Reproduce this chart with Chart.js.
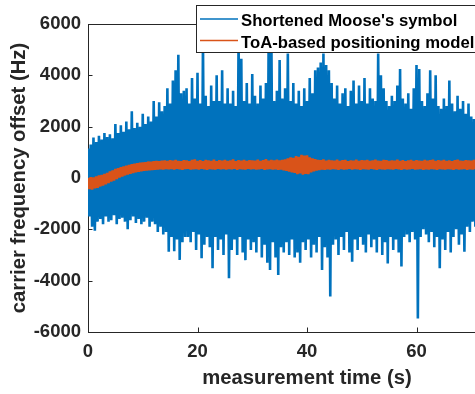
<!DOCTYPE html>
<html>
<head>
<meta charset="utf-8">
<script src="https://cdn.jsdelivr.net/npm/chart.js@4/dist/chart.umd.min.js"></script>
<style>
  html, body { margin: 0; padding: 0; background: #fff; overflow: hidden; width: 475px; height: 394px; }
  canvas { display: block; }
</style>
</head>
<body>
<canvas id="c" width="560" height="394"></canvas>
<script>
// Series names shown in the legend
const seriesNames = ["Shortened Moose's symbol", "ToA-based positioning model"];

// Envelope samples every 0.5 s: per-interval maximum and minimum (Hz)
const sampleStep = 0.5;

const blueHigh = [
  1150, 1300, 1580, 1400, 1650, 1500, 1750, 1600,
  1700, 1550, 2100, 1750, 2050, 1800, 2200, 1900,
  2600, 1950, 2150, 2000, 2500, 2100, 2400, 2200,
  3000, 2400, 2950, 2600, 2800, 3500, 2900, 3800,
  4200, 4800, 3300, 3400, 3500, 2900, 3900, 3100,
  4100, 2900, 5300, 3200, 2800, 3600, 3000, 4000,
  3000, 4200, 2900, 3500, 2900, 3400, 2800, 5400,
  4650, 3000, 3700, 2900, 4050, 3200, 2900, 3600,
  3100, 3700, 5600, 5200, 3000, 3400, 4600, 3100,
  3500, 4850, 3000, 3700, 2900, 3400, 2800, 3500,
  3000, 3900, 3300, 4200, 4300, 4500, 4850, 4400,
  4200, 3700, 3100, 3600, 2900, 3300, 3500, 2800,
  3400, 3800, 2900, 3600, 3000, 3900, 2900, 3500,
  3100, 3000, 4850, 4000, 3500, 3000, 2800, 3200,
  3000, 3600, 4250, 3100, 2900, 3300, 2700, 3500,
  4400, 4250, 3000, 2800, 3300, 4200, 3100, 4000,
  2800, 2700, 3100, 2800, 3800, 2900, 2600, 3200,
  2700, 3000, 2500, 2900, 2400, 2300, 2700, 2400
];

const blueLow = [
  -1500, -1900, -2050, -1700, -1600, -1800, -1500, -1700,
  -1650, -1450, -1800, -1600, -1550, -1700, -2000, -1650,
  -1500, -1750, -1600, -1800, -1700, -1550, -1900, -1700,
  -1800, -2100, -1900, -2200, -2100, -2870, -2300, -2850,
  -2400, -3190, -2500, -2300, -2300, -2500, -2100, -2800,
  -2200, -3130, -2600, -2300, -2700, -3520, -2300, -2800,
  -2400, -3000, -2200, -3910, -2800, -2400, -3000, -2300,
  -2900, -3200, -2400, -2800, -2500, -2900, -2300, -3100,
  -2600, -3300, -3580, -2500, -3100, -3780, -2700, -2900,
  -2500, -3000, -2400, -3100, -2900, -3300, -2500, -2800,
  -2400, -3100, -2600, -2900, -2300, -3580, -2700, -3100,
  -4620, -2600, -2400, -3000, -2300, -2800, -2100, -2900,
  -3260, -2400, -2800, -2300, -2600, -2900, -2200, -2700,
  -2400, -2900, -2300, -3000, -2500, -3330, -2300, -2800,
  -2400, -2900, -3450, -2300, -2200, -2500, -2100, -2400,
  -5470, -2300, -2000, -2200, -2500, -2100, -2700, -2300,
  -3520, -2400, -2800, -2100, -2900, -2300, -2000, -2600,
  -2200, -2870, -1900, -2100, -1700, -1900, -1500, -1800
];

const orangeHigh = [
  0, 30, 20, 60, 100, 120, 160, 200,
  260, 300, 350, 380, 420, 450, 480, 510,
  540, 560, 580, 600, 610, 620, 640, 630,
  650, 660, 650, 670, 680, 660, 690, 670,
  700, 660, 650, 690, 680, 650, 700, 720,
  660, 690, 650, 700, 680, 660, 710, 650,
  690, 670, 700, 660, 680, 720, 650, 690,
  670, 700, 660, 690, 680, 670, 710, 660,
  690, 730, 670, 700, 680, 710, 680, 700,
  720, 760, 800, 780, 850, 820, 900, 870,
  880, 800, 760, 730, 700, 690, 720, 670,
  700, 680, 670, 710, 660, 690, 700, 650,
  680, 670, 710, 660, 690, 680, 700, 660,
  680, 710, 670, 660, 700, 690, 660, 680,
  670, 710, 660, 690, 650, 680, 700, 660,
  690, 670, 660, 700, 670, 690, 710, 660,
  690, 670, 700, 660, 680, 650, 690, 710,
  670, 660, 690, 680, 670, 700, 660, 690
];

const orangeLow = [
  -430, -450, -400, -380, -330, -300, -250, -200,
  -140, -100, -40, 20, 60, 100, 130, 160,
  190, 220, 240, 260, 280, 290, 300, 310,
  320, 330, 340, 330, 350, 340, 350, 330,
  360, 340, 320, 350, 360, 330, 340, 350,
  330, 360, 340, 320, 350, 340, 330, 360,
  340, 350, 330, 350, 340, 360, 320, 350,
  340, 330, 360, 340, 350, 330, 340, 360,
  320, 340, 350, 330, 340, 320, 330, 300,
  280, 250, 220, 200, 150, 180, 130, 160,
  150, 220, 260, 290, 310, 330, 320, 340,
  330, 350, 340, 320, 350, 330, 340, 360,
  330, 350, 340, 320, 350, 340, 330, 360,
  340, 320, 350, 340, 330, 350, 340, 330,
  360, 340, 320, 350, 330, 340, 360, 330,
  340, 350, 320, 340, 330, 350, 340, 320,
  350, 340, 330, 350, 340, 320, 350, 330,
  340, 350, 320, 340, 330, 350, 340, 320
];

// Axis tick values
const xTicks = [0, 20, 40, 60, 80];
const yTicks = [-6000, -4000, -2000, 0, 2000, 4000, 6000];

const AXIS_COLOR = '#262626';
const FONT_FAMILY = '"Liberation Sans", Arial, Helvetica, sans-serif';
const tickFont = { family: FONT_FAMILY, size: 18.5, weight: 'bold' };
const titleFont = { family: FONT_FAMILY, size: 20.3, weight: 'bold' };

// Each interval contributes its maximum then its minimum, so the trace
// sweeps between both and fills the band like a dense signal.
function envelopePoints(high, low) {
  const pts = [];
  for (let i = 0; i < high.length; i++) {
    const t = i * sampleStep;
    pts.push({ x: t, y: high[i] });
    pts.push({ x: t + sampleStep / 2, y: low[i] });
  }
  return pts;
}

const seriesColors = ['#0072BD', '#D95319'];

// Box around the plot with inward tick marks on every side
const axesBox = {
  id: 'axesBox',
  beforeDatasetsDraw(chart) {
    const { ctx, chartArea: a, scales: { x, y } } = chart;
    const tl = 4.5;
    ctx.save();
    ctx.strokeStyle = AXIS_COLOR;
    ctx.lineWidth = 1;
    ctx.beginPath();
    xTicks.forEach(v => {
      const px = Math.round(x.getPixelForValue(v)) + 0.5;
      ctx.moveTo(px, a.bottom); ctx.lineTo(px, a.bottom - tl);
      ctx.moveTo(px, a.top); ctx.lineTo(px, a.top + tl);
    });
    yTicks.forEach(v => {
      const py = Math.round(y.getPixelForValue(v)) + 0.5;
      ctx.moveTo(a.left, py); ctx.lineTo(a.left + tl, py);
      ctx.moveTo(a.right, py); ctx.lineTo(a.right - tl, py);
    });
    ctx.stroke();
    ctx.strokeRect(a.left + 0.5, a.top + 0.5, a.right - a.left, a.bottom - a.top);
    ctx.restore();
  }
};

// Legend box in the upper right corner of the axes
const legendBox = {
  id: 'legendBox',
  afterDraw(chart) {
    const { ctx } = chart;
    ctx.save();
    ctx.fillStyle = '#fff';
    ctx.fillRect(196.5, 5.5, 300, 47);
    ctx.strokeStyle = AXIS_COLOR;
    ctx.lineWidth = 1;
    ctx.strokeRect(196.5, 5.5, 300, 47);
    const rows = [{ line: 19, text: 26 }, { line: 40.5, text: 47.5 }];
    ctx.font = 'bold 16.7px ' + FONT_FAMILY;
    ctx.textBaseline = 'alphabetic';
    ctx.textAlign = 'left';
    chart.data.datasets.forEach((ds, i) => {
      ctx.strokeStyle = seriesColors[i];
      ctx.lineWidth = 1.5;
      ctx.beginPath();
      ctx.moveTo(200, rows[i].line);
      ctx.lineTo(238, rows[i].line);
      ctx.stroke();
      ctx.fillStyle = '#000';
      ctx.fillText(ds.label, 241, rows[i].text);
    });
    ctx.restore();
  }
};

new Chart(document.getElementById('c'), {
  type: 'scatter',
  data: {
    datasets: [
      {
        label: seriesNames[0],
        data: envelopePoints(blueHigh, blueLow),
        showLine: true,
        borderColor: seriesColors[0],
        borderWidth: 2.6,
        borderJoinStyle: 'bevel',
        pointRadius: 0,
        order: 2
      },
      {
        label: seriesNames[1],
        data: envelopePoints(orangeHigh, orangeLow),
        showLine: true,
        borderColor: seriesColors[1],
        borderWidth: 2.6,
        borderJoinStyle: 'bevel',
        pointRadius: 0,
        order: 1
      }
    ]
  },
  options: {
    responsive: false,
    animation: false,
    devicePixelRatio: 1,
    layout: { padding: { top: 24, right: 34, bottom: 0, left: 0 } },
    plugins: { legend: { display: false }, tooltip: { enabled: false } },
    scales: {
      x: {
        type: 'linear',
        min: 0,
        max: 80,
        grid: { display: false, drawTicks: false },
        border: { display: false },
        afterBuildTicks: s => { s.ticks = xTicks.map(v => ({ value: v })); },
        afterFit: s => { s.height = 62; },
        ticks: { font: tickFont, color: AXIS_COLOR, padding: 9, maxRotation: 0, autoSkip: false, callback: v => String(v) },
        title: { display: true, text: 'measurement time (s)', font: titleFont, color: AXIS_COLOR, padding: { top: 0, bottom: 3 } }
      },
      y: {
        type: 'linear',
        min: -6000,
        max: 6000,
        grid: { display: false, drawTicks: false },
        border: { display: false },
        afterBuildTicks: s => { s.ticks = yTicks.map(v => ({ value: v })); },
        afterFit: s => { s.width = 88; },
        ticks: { font: tickFont, color: AXIS_COLOR, padding: 7, autoSkip: false, callback: v => String(v) },
        title: { display: true, text: 'carrier frequency offset (Hz)', font: titleFont, color: AXIS_COLOR, padding: { top: 7, bottom: 0 } }
      }
    }
  },
  plugins: [axesBox, legendBox]
});
</script>
</body>
</html>
